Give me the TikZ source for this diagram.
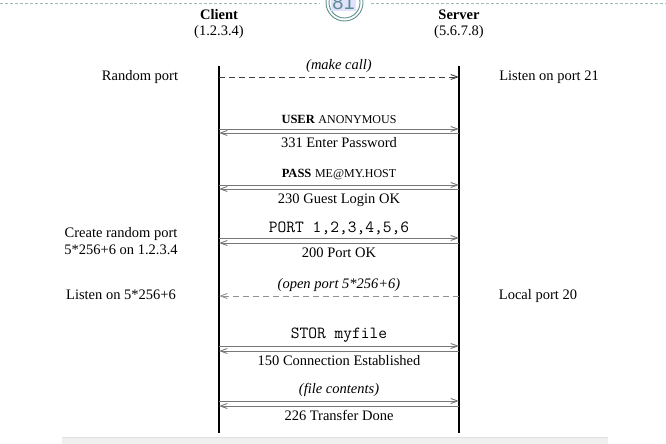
\documentclass[tikz,border=0pt]{standalone}
\usepackage{fontspec}
\setmainfont{Liberation Serif}
\setsansfont{Liberation Sans}
\usetikzlibrary{arrows.meta}
\definecolor{msg}{HTML}{777777}
\definecolor{pagec}{HTML}{5E8E8E}
\tikzset{
  txt/.style={inner sep=0pt, font=\fontsize{14.5bp}{17bp}\selectfont},
  mono/.style={inner sep=0pt, font=\fontsize{17bp}{19bp}\selectfont\ttfamily},
  life/.style={line width=1.8bp, black},
  msgarrow/.style={draw=msg, line width=0.9bp, -{Straight Barb[length=7bp,width=5bp]}},
  dasharrow/.style={msgarrow, dashed, dash pattern=on 6bp off 4bp},
}
\newcommand{\smc}[1]{{\fontsize{12bp}{14bp}\selectfont #1}}
\newcommand{\cmdword}[1]{{\fontsize{12.5bp}{14bp}\selectfont\bfseries #1}}
\begin{document}
\begin{tikzpicture}[x=1bp,y=-1bp]
\useasboundingbox (0,0) rectangle (666,444);
% page artefacts
\draw[pagec!60, densely dashed, line width=0.6bp] (0,3) -- (319,3);
\draw[pagec!60, densely dashed, line width=0.6bp] (371,3) -- (666,3);
\begin{scope}
\clip (300,0) rectangle (390,30);
\draw[pagec, line width=0.9bp] (344.5,2.5) circle (18.5);
\draw[pagec, line width=0.9bp] (344.5,2.5) circle (15.5);
\node[inner sep=1pt, fill=blue!12, text=pagec, font=\sffamily\fontsize{20bp}{22bp}\selectfont] (pg) at (343.5,3) {81};
\end{scope}
\fill[gray!12] (62,437) rectangle (608,444);
\draw[gray!25, line width=0.5bp] (62,437) -- (608,437);

% headers
\node[txt, font=\fontsize{14.5bp}{17bp}\selectfont\bfseries] (client) at (219,15) {Client};
\node[txt] (cip) at (219,32) {(1.2.3.4)};
\node[txt, font=\fontsize{14.5bp}{17bp}\selectfont\bfseries] (server) at (459,15) {Server};
\node[txt] (sip) at (459,32) {(5.6.7.8)};

% lifelines
\coordinate (cT) at (219,66);
\coordinate (cB) at (219,433);
\coordinate (sT) at (459,66);
\coordinate (sB) at (459,433);
\draw[life] (cT) -- (cB);
\draw[life] (sT) -- (sB);

% message anchor points
\foreach \n/\y in {a/77, b/129, c/133, d/185, e/189, f/238, g/243, h/296, i/346, j/351, k/401, l/406}{
  \coordinate (c\n) at (219,\y);
  \coordinate (s\n) at (459,\y);
}

% messages
\draw[dasharrow, draw=black!75] (ca) -- node[txt, above=4bp, font=\fontsize{14.5bp}{17bp}\selectfont\itshape] (m1) {(make call)} (sa);
\draw[msgarrow] (cb) -- node[txt, above=4.5bp] (m2) {\cmdword{USER} \smc{ANONYMOUS}} (sb);
\draw[msgarrow] (sc) -- node[txt, below=4bp] (m3) {331 Enter Password} (cc);
\draw[msgarrow] (cd) -- node[txt, above=4.5bp] (m4) {\cmdword{PASS} \smc{ME@MY.HOST}} (sd);
\draw[msgarrow] (se) -- node[txt, below=4bp] (m5) {230 Guest Login OK} (ce);
\draw[msgarrow] (cf) -- node[mono, above=3bp] (m6) {PORT 1,2,3,4,5,6} (sf);
\draw[msgarrow] (sg) -- node[txt, below=4bp] (m7) {200 Port OK} (cg);
\draw[dasharrow, draw=msg!80] (sh) -- node[txt, above=4bp, font=\fontsize{14.5bp}{17bp}\selectfont\itshape] (m8) {(open port 5*256+6)} (ch);
\draw[msgarrow] (ci) -- node[mono, above=3bp] (m9) {STOR myfile} (si);
\draw[msgarrow] (sj) -- node[txt, below=4bp] (m10) {150 Connection Established} (cj);
\draw[msgarrow] (ck) -- node[txt, above=4bp, font=\fontsize{14.5bp}{17bp}\selectfont\itshape] (m11) {(file contents)} (sk);
\draw[msgarrow] (sl) -- node[txt, below=4bp] (m12) {226 Transfer Done} (cl);

% side notes
\node[txt] (n1) at (140,77) {Random port};
\node[txt] (n2) at (549,77) {Listen on port 21};
\node[txt, align=center] (n3) at (121,241) {Create random port\\5*256+6 on 1.2.3.4};
\node[txt] (n4) at (121,295) {Listen on 5*256+6};
\node[txt] (n5) at (538,296) {Local port 20};
\end{tikzpicture}
\end{document}
